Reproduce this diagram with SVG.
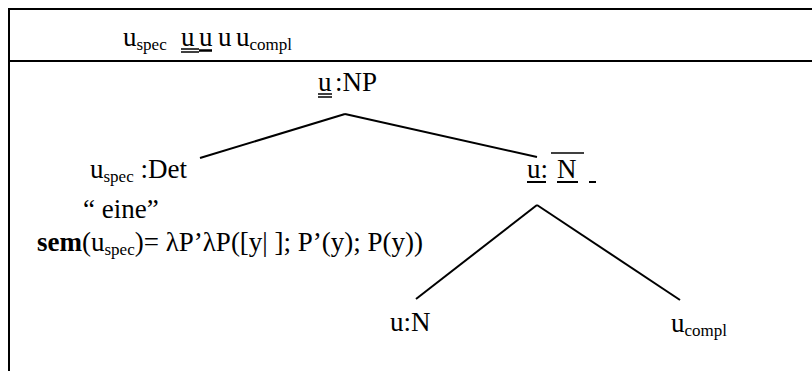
<svg xmlns="http://www.w3.org/2000/svg" width="812" height="371" viewBox="0 0 812 371">
<style>
text{font-family:"Liberation Serif","Times New Roman",serif;font-size:27px;fill:#000}
.sub{font-size:17px}
.b{font-weight:bold}
.frame{stroke:#000;stroke-width:2;fill:none}
.edge{stroke:#000;stroke-width:2;fill:none}
.ul{stroke:#000;stroke-width:1.5;fill:none}
</style>
<rect width="812" height="371" fill="#fff"/>
<g id="frame">
<path class="frame" d="M9,371 V9 H812"/>
<line class="frame" x1="9" y1="61" x2="812" y2="61"/>
</g>
<g id="header">
<text x="123" y="46">u<tspan class="sub" dy="4">spec</tspan><tspan x="181" dy="-4">u</tspan><tspan x="199">u</tspan><tspan x="218">u</tspan><tspan x="236">u</tspan><tspan class="sub" dy="4">compl</tspan></text>
<path class="ul" d="M181,49 H199 M181,52 H199"/>
<line x1="199" y1="50.5" x2="212" y2="50.5" stroke="#000" stroke-width="2.5"/>
</g>
<g id="connectors">
<line class="edge" x1="345" y1="114" x2="200" y2="158"/>
<line class="edge" x1="345" y1="114" x2="537" y2="157"/>
<line class="edge" x1="537" y1="205" x2="416" y2="299"/>
<line class="edge" x1="537" y1="205" x2="680" y2="300"/>
</g>
<g id="np">
<text x="318" y="91">u<tspan x="335">:NP</tspan></text>
<path class="ul" d="M318,94 H332 M318,97 H332"/>
</g>
<g id="det">
<text x="90" y="178">u<tspan class="sub" dy="4">spec</tspan><tspan dy="-4"> :Det</tspan></text>
<text x="83" y="218">“ eine”</text>
<text x="37" y="251"><tspan class="b">sem</tspan>(u<tspan class="sub" dy="4">spec</tspan><tspan dy="-4">)= λP’λP([y| ]; P’(y); P(y))</tspan></text>
</g>
<g id="nbar">
<text x="527" y="178">u:<tspan x="557">N</tspan></text>
<line class="ul" x1="551" y1="153" x2="584" y2="153"/>
<path d="M527,182 H546 M557,182 H578 M589,182 H596" stroke="#000" stroke-width="2" fill="none"/>
</g>
<g id="n">
<text x="390" y="331">u:N</text>
</g>
<g id="compl">
<text x="671" y="332">u<tspan class="sub" dy="4">compl</tspan></text>
</g>
</svg>
